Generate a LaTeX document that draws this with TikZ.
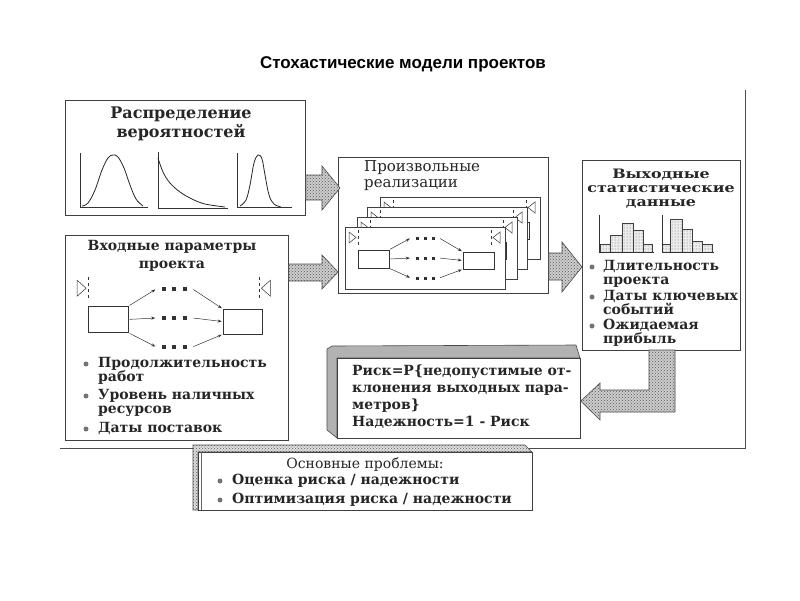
\documentclass[tikz,border=0pt]{standalone}
\usepackage{fontspec}
\setmainfont{DejaVu Serif}
\newfontfamily\titlefont{Liberation Sans}
\newfontfamily\wideserif{DejaVu Serif}[FakeStretch=1.22]
\usetikzlibrary{patterns,arrows.meta}
\begin{document}
\begin{tikzpicture}[x=1pt,y=-1pt,
  box/.style={draw=black!75, line width=0.8pt, fill=white, inner sep=0, anchor=north west},
  txt/.style={text=black!85, inner sep=0},
  blk/.style={draw=black!70, line width=0.6pt, preaction={fill=gray!40}, pattern=crosshatch dots, pattern color=black!65},
  bul/.style={circle, fill=black!55, inner sep=0, minimum size=5pt},
  rect/.style={draw=black!80, line width=0.6pt, inner sep=0},
  sarr/.style={-{Stealth[length=4pt,width=3pt]}, line width=0.5pt, draw=black!80, shorten >=1pt, shorten <=1pt},
  hbar/.style={draw=black!75, line width=0.5pt, preaction={fill=gray!15}, pattern=dots, pattern color=black!60},
  ax/.style={draw=black!80, line width=0.7pt},
  crv/.style={draw=black!85, line width=0.8pt},
  bevel/.style={draw=black!70, line width=0.6pt, fill=gray!60},
  bt/.style={txt, font=\fontsize{14}{14}\selectfont\bfseries, align=left, anchor=north west},
  netdiag/.pic={
    \draw[line width=0.5pt, black!80] (4,5) -- (4,16) -- (11,10.5) -- cycle;
    \draw[line width=0.5pt, black!80, dashed] (13,3) -- (13,18);
    \draw[line width=0.5pt, black!80] (155,5) -- (155,16) -- (148,10.5) -- cycle;
    \draw[line width=0.5pt, black!80, dashed] (146,3) -- (146,18);
    \node[rect, minimum width=31, minimum height=18] (-L) at (28.5,32) {};
    \node[rect, minimum width=31, minimum height=17] (-R) at (133.5,33.5) {};
    \foreach \n/\yy in {1/11,2/31,3/51} {
      \node[inner sep=0, minimum width=28, minimum height=4] (-D\n) at (80,\yy) {};
      \foreach \dx in {-8,0,8} \fill[black!80] (80+\dx-1.5,\yy-1.5) rectangle +(3,3);
    }
    \draw[sarr] (-L.north east) -- (-D1.west);
    \draw[sarr] (-L.east) -- (-D2.west);
    \draw[sarr] (-L.south east) -- (-D3.west);
    \draw[sarr] (-D1.east) -- (-R.north west);
    \draw[sarr] (-D2.east) -- (-R.west);
    \draw[sarr] (-D3.east) -- (-R.south west);
  }]
\useasboundingbox[fill=white] (0,0) rectangle (800,600);

% title
\node[txt, text=black, font=\titlefont\bfseries\fontsize{17}{20}\selectfont] (title) at (403,64) {Стохастические модели проектов};

% frame lines
\coordinate (frTop) at (745,90);
\coordinate (frCorner) at (745,448);
\coordinate (frLeft) at (60,448);
\draw[black!70, line width=0.8pt] (frTop) -- (frCorner) -- (frLeft);

% ---------- box 1: distributions
\node[box, minimum width=240, minimum height=115] (dist) at (65,100) {};
\node[txt, font=\fontsize{16}{19}\selectfont\bfseries, align=center] (distT) at (181,124) {Распределение\\вероятностей};
\draw[ax] (80,153) -- (80,207) -- (148,207);
\draw[crv] plot[smooth, tension=0.6] coordinates {(82,206) (88,203) (95,190) (102,170) (108,158) (113,155) (118,157) (124,168) (130,185) (136,199) (143,206)};
\draw[ax] (158,152) -- (158,208) -- (228,208);
\draw[crv] plot[smooth, tension=0.6] coordinates {(158,158) (163,172) (170,183) (180,192) (192,199) (205,204) (225,207)};
\draw[ax] (237,153) -- (237,207) -- (292,207);
\draw[crv] plot[smooth, tension=0.6] coordinates {(240,206) (246,200) (250,185) (254,163) (258,155) (262,159) (265,175) (269,195) (274,204) (281,207)};

% ---------- box 2: input parameters
\node[box, minimum width=223, minimum height=205] (inp) at (65,235) {};
\node[txt, font=\fontsize{14}{18}\selectfont\bfseries, align=center] (inpT) at (172,256) {Входные параметры\\проекта};
\pic[xscale=1.28, yscale=1.45, transform shape] (n0) at (72,273) {netdiag};
\node[bul] (b21) at (86,364) {};
\node[bt] (t21) at (98,357) {Продолжительность\\работ};
\node[bul] (b22) at (86,396) {};
\node[bt] (t22) at (98,389) {Уровень наличных\\ресурсов};
\node[bul] (b23) at (86,429) {};
\node[bt] (t23) at (98,422) {Даты поставок};

% ---------- box 3: random realizations
\node[box, minimum width=210, minimum height=136] (real) at (338,157) {};
\node[txt, font=\fontsize{15}{16}\selectfont, align=left, anchor=north west] (realT) at (364,160) {Произвольные\\реализации};
\node[box, line width=0.6pt, minimum width=160, minimum height=62] (s4) at (380,197) {};
\pic (p4) at (s4.north west) {netdiag};
\node[box, line width=0.6pt, minimum width=160, minimum height=62] (s3) at (367,207) {};
\pic (p3) at (s3.north west) {netdiag};
\node[box, line width=0.6pt, minimum width=160, minimum height=62] (s2) at (357,217) {};
\pic (p2) at (s2.north west) {netdiag};
\node[box, line width=0.6pt, minimum width=160, minimum height=62] (s1) at (345,227) {};
\pic (p1) at (s1.north west) {netdiag};

% ---------- box 4: output statistics
\node[box, minimum width=158, minimum height=190] (out) at (582,160) {};
\node[txt, font=\wideserif\fontsize{13}{14}\selectfont\bfseries, align=center] (outT) at (661,189) {Выходные\\статистические\\данные};
\draw[hbar] (600,244) rectangle (610,252);
\draw[hbar] (610,235) rectangle (622,252);
\draw[hbar] (622,223) rectangle (633,252);
\draw[hbar] (633,230) rectangle (643,252);
\draw[hbar] (643,244) rectangle (652,252);
\draw[ax] (599,215) -- (599,252) -- (654,252);
\draw[hbar] (662,244) rectangle (670,252);
\draw[hbar] (670,219) rectangle (682,252);
\draw[hbar] (682,229) rectangle (692,252);
\draw[hbar] (692,241) rectangle (702,252);
\draw[hbar] (702,244) rectangle (712,252);
\draw[ax] (662,215) -- (662,252) -- (714,252);
\node[bul] (b41) at (592,267) {};
\node[bt] (t41) at (603,260) {Длительность\\проекта};
\node[bul] (b42) at (592,297) {};
\node[bt] (t42) at (603,290) {Даты ключевых\\событий};
\node[bul] (b43) at (592,326) {};
\node[bt] (t43) at (603,319) {Ожидаемая\\прибыль};

% ---------- box 5: risk
\draw[bevel] (327,349) -- (332,346) -- (576,345) -- (580,358) -- (337,358) -- (337,438) -- (327,430) -- cycle;
\node[box, minimum width=243, minimum height=80] (risk) at (337,358) {};
\node[txt, font=\fontsize{14}{17}\selectfont\bfseries, align=left, anchor=north west] (riskT) at (352,365) {Риск=Р\{недопустимые от-\\клонения выходных пара-\\метров\}\\ Надежность=1 - Риск};

% ---------- box 6: main problems
\draw[blk, preaction={fill=gray!25}] (193,445) -- (525,445) -- (532,452) -- (198,452) -- (198,510) -- (193,510) -- cycle;
\node[box, minimum width=334, minimum height=58] (prob) at (198,452) {};
\draw[black!60, line width=0.5pt] (201,452) -- (201,510);
\node[txt, font=\fontsize{14}{14}\selectfont] (probT) at (365,465) {Основные проблемы:};
\node[bul] (b61) at (220,481) {};
\node[txt, font=\fontsize{14}{14}\selectfont\bfseries, anchor=west] (t61) at (232,481) {Оценка риска / надежности};
\node[bul] (b62) at (220,500) {};
\node[txt, font=\fontsize{14}{14}\selectfont\bfseries, anchor=west] (t62) at (232,500) {Оптимизация риска / надежности};

% ---------- block arrows
\draw[blk] (dist.east |- 0,175) -- (322,175) -- (322,166) -- (340,188) -- (322,210) -- (322,200) -- (dist.east |- 0,200) -- cycle;
\draw[blk] (inp.east |- 0,264) -- (322,264) -- (322,255) -- (real.west |- 0,272) -- (322,289) -- (322,281) -- (inp.east |- 0,281) -- cycle;
\draw[blk] (real.east |- 0,253) -- (562,253) -- (562,242) -- (out.west |- 0,267) -- (562,292) -- (562,280) -- (real.east |- 0,280) -- cycle;
\draw[blk] (649,350) -- (675,350) -- (675,412) -- (600,412) -- (600,420) -- (risk.east |- 0,401) -- (600,383) -- (600,390) -- (649,390) -- cycle;

\end{tikzpicture}
\end{document}
